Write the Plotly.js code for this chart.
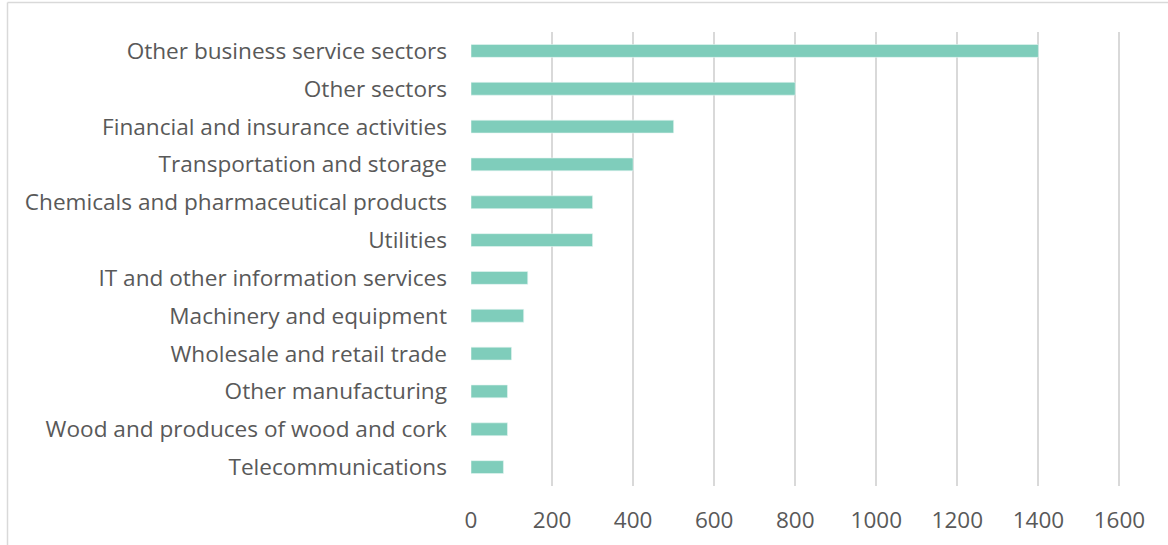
<!DOCTYPE html>
<html>
<head>
<meta charset="utf-8">
<script src="https://cdn.plot.ly/plotly-3.0.1.min.js"></script>
<style>
  html, body { margin: 0; padding: 0; background: #ffffff; }
  #chart { width: 1168px; height: 545px; }
</style>
</head>
<body>
<div id="chart"></div>
<script>
// Sectors, listed top to bottom
const sectors = [
  "Other business service sectors",
  "Other sectors",
  "Financial and insurance activities",
  "Transportation and storage",
  "Chemicals and pharmaceutical products",
  "Utilities",
  "IT and other information services",
  "Machinery and equipment",
  "Wholesale and retail trade",
  "Other manufacturing",
  "Wood and produces of wood and cork",
  "Telecommunications"
];
const values = [1400, 800, 500, 400, 300, 300, 140, 130, 100, 90, 90, 80];
const xTicks = [0, 200, 400, 600, 800, 1000, 1200, 1400, 1600];

const FONT = "'Open Sans', 'Noto Sans', sans-serif";
const GREY = "#595959";

// plot area geometry in pixels (used to place the chart frame)
const W = 1168, H = 545;
const mL = 471, mR = 8, mT = 32, mB = 59;
const pw = W - mL - mR, ph = H - mT - mB;
const px = v => (v - mL) / pw;
const py = v => (H - mB - v) / ph;

const trace = {
  type: "bar",
  orientation: "h",
  y: sectors,
  x: values,
  width: 0.34,
  marker: { color: "#7fcdbb", line: { color: "#e6f5f1", width: 0.6 } },
  hoverinfo: "x+y"
};

const layout = {
  width: W,
  height: H,
  margin: { l: mL, r: mR, t: mT, b: mB, pad: 0 },
  paper_bgcolor: "#ffffff",
  plot_bgcolor: "#ffffff",
  showlegend: false,
  font: { family: FONT, color: GREY, size: 22 },
  xaxis: {
    range: [0, 1700],
    tickvals: xTicks,
    ticktext: xTicks.map(String),
    showgrid: true,
    gridcolor: "#d9d9d9",
    gridwidth: 2,
    zeroline: false,
    showline: false,
    ticks: "",
    ticklabelstandoff: 18,
    tickfont: { family: FONT, size: 22.5, color: GREY },
    fixedrange: true
  },
  yaxis: {
    type: "category",
    categoryorder: "array",
    categoryarray: sectors,
    autorange: "reversed",
    showgrid: false,
    zeroline: false,
    showline: false,
    ticks: "",
    ticklabelstandoff: 23,
    tickfont: { family: FONT, size: 22.6, color: GREY },
    fixedrange: true
  },
  shapes: [
    // chart frame (left and top edges)
    { type: "line", xref: "paper", yref: "paper",
      x0: px(7.5), x1: px(7.5), y0: py(2.5), y1: py(H + 5),
      line: { color: "#d9d9d9", width: 1.5 } },
    { type: "line", xref: "paper", yref: "paper",
      x0: px(7.5), x1: px(W + 5), y0: py(2.5), y1: py(2.5),
      line: { color: "#d9d9d9", width: 1.5 } }
  ]
};

Plotly.newPlot("chart", [trace], layout, { displayModeBar: false, staticPlot: true });
</script>
</body>
</html>
